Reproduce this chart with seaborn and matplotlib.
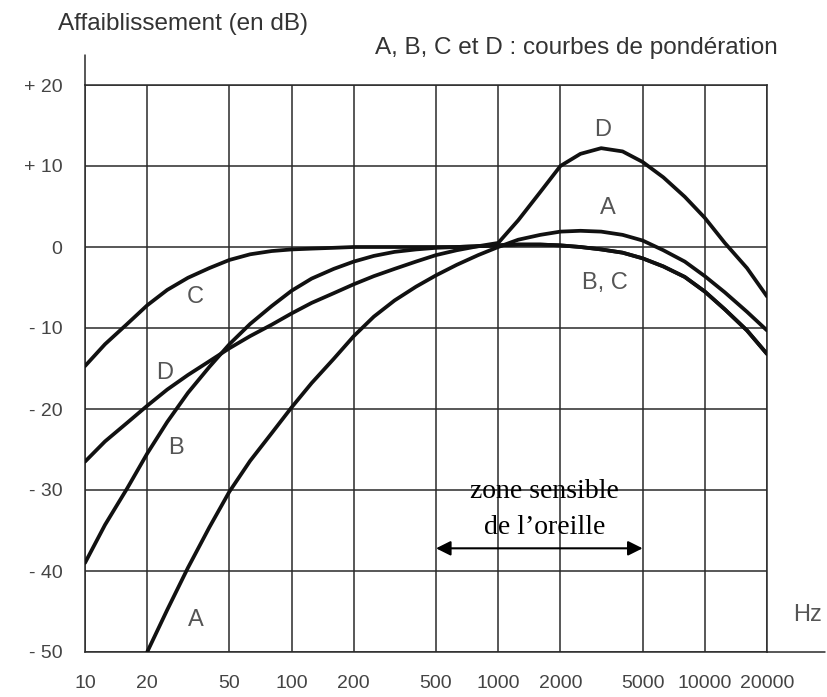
import numpy as np
import pandas as pd
import matplotlib
matplotlib.use('Agg')
import matplotlib.pyplot as plt
import seaborn as sns
from matplotlib.ticker import FixedLocator, NullLocator, FixedFormatter

# ---- data ----
freq_ticks = [10, 20, 50, 100, 200, 500, 1000, 2000, 5000, 10000, 20000]
freq_labels = ['10', '20', '50', '100', '200', '500', '1000', '2000', '5000', '10000', '20000']
db_ticks = [20, 10, 0, -10, -20, -30, -40, -50]
db_labels = ['+ 20', '+ 10', '0', '- 10', '- 20', '- 30', '- 40', '- 50']

freq_A = [20, 25, 31.5, 40, 50, 63, 80, 100, 125, 160, 200, 250, 315, 400, 500, 630, 800,
          1000, 1250, 1600, 2000, 2500, 3150, 4000, 5000, 6300, 8000, 10000, 12500, 16000,
          20000]
db_A = [-50, -44.8, -39.6, -34.6, -30.2, -26.4, -23.0, -19.8, -16.8, -13.8, -11.0, -8.6,
        -6.6, -4.9, -3.5, -2.2, -1.0, 0, 0.9, 1.5, 1.9, 2.0, 1.9, 1.5, 0.8, -0.4, -1.8,
        -3.6, -5.6, -8.0, -10.3]

freq_B = [10, 12.5, 16, 20, 25, 31.5, 40, 50, 63, 80, 100, 125, 160, 200, 250, 315, 400,
          500, 630, 800, 1000, 1250, 1600, 2000, 2500, 3150, 4000, 5000, 6300, 8000, 10000,
          12500, 16000, 20000]
db_B = [-39, -34.3, -29.8, -25.5, -21.6, -18.0, -14.8, -12.0, -9.5, -7.3, -5.4, -3.9, -2.7,
        -1.8, -1.1, -0.6, -0.3, -0.1, 0, 0.1, 0.2, 0.3, 0.3, 0.2, 0.0, -0.3, -0.7, -1.4,
        -2.4, -3.7, -5.5, -7.7, -10.3, -13.2]

freq_C = [10, 12.5, 16, 20, 25, 31.5, 40, 50, 63, 80, 100, 125, 160, 200, 250, 315, 400,
          500, 630, 800, 1000, 1250, 1600, 2000, 2500, 3150, 4000, 5000, 6300, 8000, 10000,
          12500, 16000, 20000]
db_C = [-14.7, -12.0, -9.5, -7.2, -5.3, -3.8, -2.6, -1.6, -0.9, -0.5, -0.3, -0.2, -0.1, 0,
        0, 0, 0, 0, 0, 0.1, 0.2, 0.3, 0.3, 0.2, 0.0, -0.3, -0.7, -1.4, -2.4, -3.7, -5.5,
        -7.7, -10.3, -13.2]

freq_D = [10, 12.5, 16, 20, 25, 31.5, 40, 50, 63, 80, 100, 125, 160, 200, 250, 315, 400,
          500, 630, 800, 1000, 1250, 1600, 2000, 2500, 3150, 4000, 5000, 6300, 8000, 10000,
          12500, 16000, 20000]
db_D = [-26.5, -24.0, -21.7, -19.6, -17.6, -15.8, -14.1, -12.5, -11.0, -9.6, -8.2, -6.9,
        -5.7, -4.6, -3.6, -2.7, -1.8, -1.0, -0.4, 0.1, 0.5, 3.3, 6.8, 10.0, 11.5, 12.2,
        11.8, 10.5, 8.6, 6.2, 3.6, 0.5, -2.6, -6.1]

curves = {'A': (freq_A, db_A), 'B': (freq_B, db_B), 'C': (freq_C, db_C), 'D': (freq_D, db_D)}
df = pd.concat([pd.DataFrame({'freq': f, 'db': d, 'curve': k}) for k, (f, d) in curves.items()],
               ignore_index=True)

# ---- style ----
sns.set_style('white')
plt.rcParams['font.family'] = ['Liberation Sans', 'DejaVu Sans']

W, H = 827, 697
fig = plt.figure(figsize=(W / 100, H / 100), dpi=100)
ax = fig.add_axes([85 / W, 45 / H, 682 / W, 567 / H])

grid_col = '#2a2a2a'
sns.lineplot(data=df, x='freq', y='db', hue='curve', estimator=None, sort=False,
             palette={k: '#111111' for k in curves}, linewidth=2.7, legend=False, ax=ax,
             solid_joinstyle='round', solid_capstyle='round', zorder=5)

ax.set_xscale('log')
ax.set_xlim(10, 20000)
ax.set_ylim(-50, 20)
ax.xaxis.set_major_locator(FixedLocator(freq_ticks))
ax.xaxis.set_major_formatter(FixedFormatter(freq_labels))
ax.xaxis.set_minor_locator(NullLocator())
ax.yaxis.set_major_locator(FixedLocator(db_ticks))
ax.yaxis.set_major_formatter(FixedFormatter(db_labels))
ax.yaxis.set_minor_locator(NullLocator())
ax.set_xlabel('')
ax.set_ylabel('')

ax.grid(True, which='major', color=grid_col, linewidth=1.1)
for s in ax.spines.values():
    s.set_color(grid_col)
    s.set_linewidth(1.1)

ax.tick_params(axis='y', direction='out', length=12.2, width=1.1, color=grid_col,
               pad=4, labelsize=14, labelcolor='#444444')
ax.tick_params(axis='x', direction='out', length=9.4, width=1.1, color=grid_col,
               pad=7, labelsize=14, labelcolor='#444444')

# axis extensions
ax.plot([10, 10], [20, 23.7], color=grid_col, lw=1.1, clip_on=False)
ax.plot([1, 1.085], [-50, -50], color=grid_col, lw=1.1, clip_on=False,
        transform=ax.get_yaxis_transform())

# curve labels
lab_kw = dict(fontsize=17, color='#555555', ha='center', va='center')
ax.text(3214, 14.4, 'D', **lab_kw)
ax.text(3400, 4.8, 'A', **lab_kw)
ax.text(3290, -4.4, 'B, C', **lab_kw)
ax.text(34, -6.2, 'C', **lab_kw)
ax.text(24.4, -15.6, 'D', **lab_kw)
ax.text(27.6, -24.8, 'B', **lab_kw)
ax.text(34.4, -46, 'A', **lab_kw)
ax.text(1.06, -45.4, 'Hz', transform=ax.get_yaxis_transform(), **lab_kw)

# sensitive zone
serif = ['Liberation Serif', 'DejaVu Serif']
ax.text(1683, -30.2, 'zone sensible', fontsize=20, family=serif, ha='center', va='center',
        color='black')
ax.text(1683, -34.6, 'de l\u2019oreille', fontsize=20, family=serif, ha='center', va='center',
        color='black')
ax.annotate('', xy=(5000, -37.2), xytext=(500, -37.2),
            arrowprops=dict(arrowstyle='<|-|>', color='black', lw=1.5, mutation_scale=22,
                            shrinkA=0, shrinkB=0))

# titles
fig.text(58 / W, 1 - 24 / H, 'Affaiblissement (en dB)', fontsize=17.5, color='#333333',
         ha='left', va='center')
fig.text(778 / W, 1 - 48 / H, 'A, B, C et D : courbes de pond\u00e9ration', fontsize=17.5,
         color='#333333', ha='right', va='center')

fig.savefig('out.png', dpi=100, facecolor='white')
